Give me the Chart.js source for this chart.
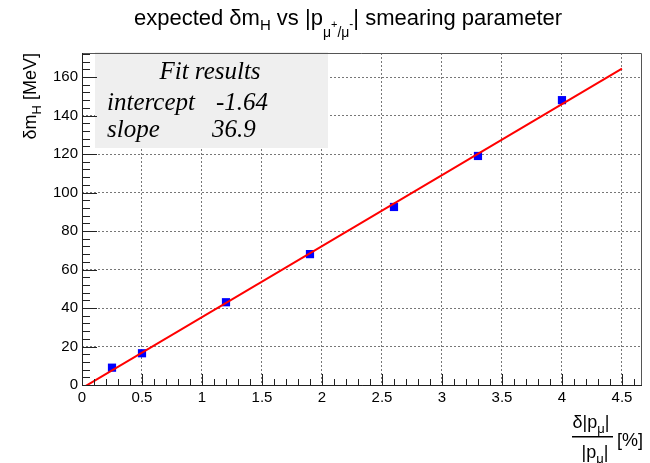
<!DOCTYPE html>
<html>
<head>
<meta charset="utf-8">
<script src="https://cdn.jsdelivr.net/npm/chart.js@4.4.1/dist/chart.umd.min.js"></script>
<style>
  html, body { margin: 0; padding: 0; background: #fff; }
  canvas { display: block; }
</style>
</head>
<body>
<canvas id="smearChart" width="650" height="463"></canvas>
<script>
// measured points: smearing parameter [%] vs expected delta m_H [MeV]
const smearX = [0.25, 0.5, 1.2, 1.9, 2.6, 3.3, 4.0];
const deltaM = [9, 16.5, 43, 68, 92.5, 119, 148];
// straight-line fit, end points
const fitX = [0, 4.5];
const fitY = [-1.64, 164.4];
const xTicks = [0, 0.5, 1, 1.5, 2, 2.5, 3, 3.5, 4, 4.5];
const yTicks = [0, 20, 40, 60, 80, 100, 120, 140, 160];
const fitNames = ['intercept', 'slope'];
const fitValues = ['-1.64', '36.9'];

const SANS = '"Liberation Sans", Arial, sans-serif';
const SERIF = '"Liberation Serif", "Times New Roman", serif';

// draws a run of text pieces [text, size, dy] starting at x (or ending at x if align right / centred)
function richText(ctx, parts, x, y, align) {
  let w = 0;
  parts.forEach(p => { ctx.font = p[1] + 'px ' + SANS; w += ctx.measureText(p[0]).width; });
  let cx = align === 'center' ? x - w / 2 : align === 'right' ? x - w : x;
  ctx.textAlign = 'left';
  ctx.textBaseline = 'alphabetic';
  parts.forEach(p => {
    ctx.font = p[1] + 'px ' + SANS;
    ctx.fillText(p[0], cx, y + (p[2] || 0));
    cx += ctx.measureText(p[0]).width;
  });
  return w;
}

const rootFrame = {
  id: 'rootFrame',
  beforeDatasetsDraw(chart) {
    const ctx = chart.ctx;
    ctx.save();
    ctx.fillStyle = '#efefef';
    ctx.fillRect(95, 52, 233, 96);
    ctx.fillStyle = '#000';
    ctx.font = 'italic 25px ' + SERIF;
    ctx.textBaseline = 'alphabetic';
    ctx.textAlign = 'center';
    ctx.fillText('Fit results', 210, 79);
    ctx.textAlign = 'left';
    fitNames.forEach((n, i) => {
      ctx.fillText(n, 107, 110 + i * 27);
      ctx.fillText(fitValues[i], i === 0 ? 216 : 212, 110 + i * 27);
    });
    ctx.restore();
  },
  afterDraw(chart) {
    const ctx = chart.ctx;
    const a = chart.chartArea;
    const xs = chart.scales.x, ys = chart.scales.y;
    ctx.save();
    // frame
    ctx.strokeStyle = '#555';
    ctx.lineWidth = 1;
    ctx.beginPath();
    ctx.moveTo(a.left, a.top + 0.5);
    ctx.lineTo(a.right - 0.5, a.top + 0.5);
    ctx.lineTo(a.right - 0.5, a.bottom);
    ctx.stroke();
    ctx.strokeStyle = '#222';
    ctx.beginPath();
    ctx.moveTo(a.left + 0.5, a.top);
    ctx.lineTo(a.left + 0.5, a.bottom + 0.5);
    ctx.lineTo(a.right, a.bottom + 0.5);
    ctx.stroke();
    // inward ticks
    ctx.beginPath();
    for (let v = 0; v <= xs.max + 1e-9; v += 0.1) {
      const px = Math.round(xs.getPixelForValue(v)) + 0.5;
      const major = Math.abs(v / 0.5 - Math.round(v / 0.5)) < 1e-6;
      ctx.moveTo(px, a.bottom);
      ctx.lineTo(px, a.bottom - (major ? 11 : 6));
    }
    for (let v = 0; v <= ys.max + 1e-9; v += 4) {
      const py = Math.round(ys.getPixelForValue(v)) + 0.5;
      const major = v % 20 === 0;
      ctx.moveTo(a.left, py);
      ctx.lineTo(a.left + (major ? 15 : 8), py);
    }
    ctx.stroke();
    // tick labels
    ctx.fillStyle = '#000';
    ctx.font = '15px ' + SANS;
    ctx.textAlign = 'center';
    ctx.textBaseline = 'alphabetic';
    xTicks.forEach(v => ctx.fillText(String(v), xs.getPixelForValue(v), 402));
    ctx.textAlign = 'right';
    ctx.textBaseline = 'middle';
    yTicks.forEach(v => ctx.fillText(String(v), 78, ys.getPixelForValue(v)));
    // title
    richText(ctx, [
      ['expected \u03b4m', 22], ['H', 15, 5], [' vs |p', 22],
      ['\u03bc', 14, 12], ['+', 11, 3], ['/\u03bc', 14, 12], ['-', 12, 3],
      ['| smearing parameter', 22]
    ], 348, 25, 'center');
    // y title
    ctx.save();
    ctx.translate(36, 53);
    ctx.rotate(-Math.PI / 2);
    richText(ctx, [['\u03b4m', 18], ['H', 13, 5], [' [MeV]', 18]], 0, 0, 'right');
    ctx.restore();
    // x title as a fraction
    richText(ctx, [['\u03b4|p', 18], ['\u03bc', 13, 5], ['|', 18]], 591, 428, 'center');
    ctx.fillRect(572, 436, 41, 1.5);
    richText(ctx, [['|p', 18], ['\u03bc', 13, 5], ['|', 18]], 595, 458, 'center');
    richText(ctx, [['[%]', 18]], 617, 446, 'left');
    ctx.restore();
  }
};

new Chart(document.getElementById('smearChart'), {
  type: 'scatter',
  data: {
    datasets: [
      {
        type: 'line',
        label: 'fit',
        data: fitX.map((x, i) => ({ x, y: fitY[i] })),
        borderColor: '#ff0000',
        borderWidth: 2,
        pointRadius: 0,
        fill: false
      },
      {
        label: 'points',
        data: smearX.map((x, i) => ({ x, y: deltaM[i] })),
        pointStyle: 'rect',
        pointRadius: 5.8,
        backgroundColor: '#0000ff',
        borderColor: '#0000ff',
        borderWidth: 0
      }
    ]
  },
  options: {
    responsive: false,
    animation: false,
    layout: { padding: { left: 82, right: 8, top: 53, bottom: 78 } },
    plugins: { legend: { display: false }, tooltip: { enabled: false } },
    scales: {
      x: {
        type: 'linear',
        min: 0,
        max: 4.667,
        afterBuildTicks: s => { s.ticks = xTicks.map(v => ({ value: v })); },
        ticks: { display: false },
        grid: { color: '#777', drawTicks: false, lineWidth: 1 },
        border: { display: false, dash: [2, 2] }
      },
      y: {
        type: 'linear',
        min: 0,
        max: 172.5,
        afterBuildTicks: s => { s.ticks = yTicks.map(v => ({ value: v })); },
        ticks: { display: false },
        grid: { color: '#777', drawTicks: false, lineWidth: 1 },
        border: { display: false, dash: [2, 2] }
      }
    }
  },
  plugins: [rootFrame]
});
</script>
</body>
</html>
